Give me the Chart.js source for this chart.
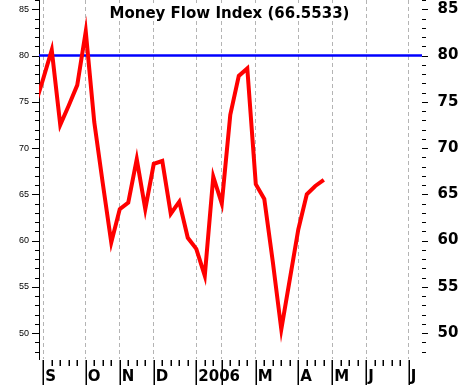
<!DOCTYPE html>
<html>
<head>
<meta charset="utf-8">
<script src="https://cdn.jsdelivr.net/npm/chart.js@4.4.0/dist/chart.umd.min.js"></script>
<style>
html, body { margin: 0; padding: 0; background: #ffffff; }
canvas { display: block; }
</style>
</head>
<body>
<canvas id="c" width="460" height="385"></canvas>
<script>
// ---- data (weekly Money Flow Index readings) ----
const titleText = 'Money Flow Index';
const firstWeek = -1;
const mfiValues = [74.5, 77.5, 80.6, 72.5, 74.6, 76.8, 82.6, 72.8, 66.2, 59.8,
                   63.4, 64.1, 68.8, 63.4, 68.3, 68.6, 62.9, 64.2, 60.3, 59.1,
                   56.2, 66.9, 64.0, 73.6, 77.8, 78.6, 66.1, 64.5, 57.7, 50.4,
                   55.8, 61.2, 65.0, 65.9, 66.5533];
const monthLabels = ['S', 'O', 'N', 'D', '2006', '', 'M', 'A', 'M', 'J', 'J'];
const monthStartWeeks = [0, 5, 9, 13, 18, 21, 25, 30, 34, 38, 43];
const lastTickWeek = 43;
const yTickLabels = [50, 55, 60, 65, 70, 75, 80, 85];
const overboughtLevel = 80;

// ---- scale extents ----
const xMin = -0.5, xMax = 44.55;
const yMin = 47.2, yMax = 86.0;

const mfiPoints = mfiValues.map((v, i) => ({ x: firstWeek + i, y: v }));
const levelPoints = [{ x: xMin, y: overboughtLevel }, { x: xMax, y: overboughtLevel }];
const titleString = titleText + ' (' + mfiValues[mfiValues.length - 1].toFixed(4) + ')';

function noPad(s) {
  s.paddingTop = 0; s.paddingBottom = 0; s.paddingLeft = 0; s.paddingRight = 0;
}

const decor = {
  id: 'decor',
  afterDraw(chart) {
    const ctx = chart.ctx, ca = chart.chartArea;
    const xs = chart.scales.x, ys = chart.scales.y;
    const H = chart.height;
    ctx.save();
    // y tick marks, both sides
    ctx.strokeStyle = '#000000';
    ctx.lineWidth = 1;
    for (let v = Math.ceil(ys.min); v <= Math.floor(ys.max); v++) {
      const py = Math.round(ys.getPixelForValue(v)) + 0.5;
      const major = yTickLabels.includes(v);
      ctx.beginPath();
      ctx.moveTo(ca.left - (major ? 7 : 4), py);
      ctx.lineTo(ca.left, py);
      ctx.moveTo(ca.right, py);
      ctx.lineTo(ca.right + (major ? 6 : 4), py);
      ctx.stroke();
    }
    // x tick marks (weekly, long at month starts)
    ctx.lineWidth = 1.5;
    for (let w = 0; w <= lastTickWeek; w++) {
      const px = Math.round(xs.getPixelForValue(w)) + 0.25;
      const major = monthStartWeeks.includes(w);
      ctx.beginPath();
      ctx.moveTo(px, ca.bottom + 1);
      ctx.lineTo(px, major ? H : ca.bottom + 7);
      ctx.stroke();
    }
    // month labels
    ctx.fillStyle = '#000000';
    ctx.font = 'bold 15px "DejaVu Sans"';
    ctx.textAlign = 'left';
    ctx.textBaseline = 'alphabetic';
    monthLabels.forEach((lab, i) => {
      if (!lab) return;
      const px = xs.getPixelForValue(monthStartWeeks[i]);
      ctx.fillText(lab, px + 2, 381);
    });
    // title with white backing
    ctx.font = 'bold 15px "DejaVu Sans"';
    const tw = ctx.measureText(titleString).width;
    const cx = (ca.left + ca.right) / 2 - 1;
    ctx.fillStyle = '#ffffff';
    ctx.fillRect(cx - tw / 2 - 3, 3, tw + 6, 18);
    ctx.fillStyle = '#000000';
    ctx.textAlign = 'center';
    ctx.fillText(titleString, cx, 18);
    ctx.restore();
  }
};

new Chart(document.getElementById('c'), {
  type: 'line',
  data: {
    datasets: [
      {
        data: mfiPoints,
        borderColor: '#ff0000',
        borderWidth: 4,
        pointRadius: 0,
        tension: 0,
        fill: false,
        clip: 0,
        xAxisID: 'x', yAxisID: 'y'
      },
      {
        data: levelPoints,
        borderColor: '#0000ff',
        borderWidth: 2.5,
        pointRadius: 0,
        tension: 0,
        fill: false,
        clip: 0,
        xAxisID: 'x', yAxisID: 'y'
      }
    ]
  },
  options: {
    responsive: false,
    animation: false,
    devicePixelRatio: 1,
    layout: { padding: 0 },
    events: [],
    plugins: { legend: { display: false }, tooltip: { enabled: false }, title: { display: false } },
    scales: {
      x: {
        type: 'linear', position: 'bottom', min: xMin, max: xMax,
        afterBuildTicks: s => { s.ticks = monthStartWeeks.map(v => ({ value: v })); },
        afterFit: s => { s.height = 26; noPad(s); },
        ticks: { display: false },
        grid: { display: true, color: '#b4b4b4', lineWidth: 1, drawTicks: false },
        border: { display: false, dash: [4, 3] }
      },
      y: {
        position: 'left', min: yMin, max: yMax,
        afterBuildTicks: s => { s.ticks = yTickLabels.map(v => ({ value: v })); },
        afterFit: s => { s.width = 39; noPad(s); },
        ticks: { padding: 10, color: '#000000', font: { family: '"Liberation Sans", Arial', size: 9 } },
        grid: { display: false, drawTicks: false },
        border: { display: true, color: '#000000', width: 1 }
      },
      y2: {
        position: 'right', min: yMin, max: yMax,
        afterBuildTicks: s => { s.ticks = yTickLabels.map(v => ({ value: v })); },
        afterFit: s => { s.width = 38; noPad(s); },
        ticks: { padding: 15.5, color: '#000000', font: { family: '"DejaVu Sans"', size: 15, weight: 'bold' } },
        grid: { display: false, drawTicks: false },
        border: { display: false }
      }
    }
  },
  plugins: [decor]
});
</script>
</body>
</html>
